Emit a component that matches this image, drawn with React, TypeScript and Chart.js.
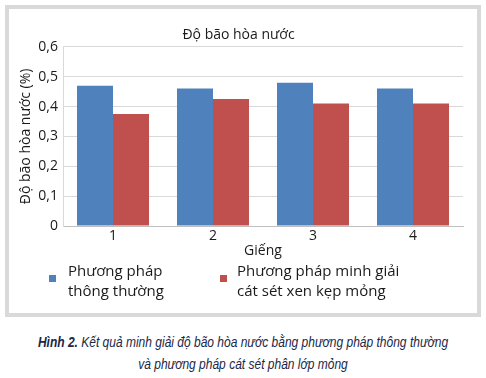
import React, { useEffect, useRef } from "react";
import { Chart, registerables } from "chart.js";

Chart.register(...registerables);

const categories = ["1", "2", "3", "4"];
const seriesConventional = [0.47, 0.46, 0.48, 0.46];
const seriesThinLayer = [0.375, 0.425, 0.41, 0.41];
const seriesLabels = [
  ["Phương pháp", "thông thường"],
  ["Phương pháp minh giải", "cát sét xen kẹp mỏng"],
];
const seriesColors = ["#4f81bd", "#c0504d"];
const yTicks = [0, 0.1, 0.2, 0.3, 0.4, 0.5, 0.6];
const chartTitle = "Độ bão hòa nước";
const yTitle = "Độ bão hòa nước (%)";
const xTitle = "Giếng";

const FONT = "'Open Sans', 'Noto Sans', sans-serif";

const legendPlugin = {
  id: "customLegend",
  afterDraw(chart: any) {
    const ctx = chart.ctx;
    const xs = [[49, 68], [220, 237]];
    ctx.save();
    chart.data.datasets.forEach((ds: any, i: number) => {
      const [mx, tx] = xs[i];
      ctx.fillStyle = ds.backgroundColor;
      ctx.fillRect(mx, 275, 7, 7);
      ctx.fillStyle = "#1a1a1a";
      ctx.font = `15px ${FONT}`;
      ctx.textBaseline = "middle";
      ctx.textAlign = "left";
      const lines: string[] = ds.legendLines;
      lines.forEach((l, j) => ctx.fillText(l, tx, 272 + j * 20));
    });
    ctx.restore();
  },
};

export default function App() {
  const ref = useRef<HTMLCanvasElement>(null);
  useEffect(() => {
    if (!ref.current) return;
    const chart = new Chart(ref.current, {
      type: "bar",
      data: {
        labels: categories,
        datasets: [
          {
            label: seriesLabels[0].join(" "),
            legendLines: seriesLabels[0],
            data: seriesConventional,
            backgroundColor: seriesColors[0],
            categoryPercentage: 0.72,
            barPercentage: 1,
          } as any,
          {
            label: seriesLabels[1].join(" "),
            legendLines: seriesLabels[1],
            data: seriesThinLayer,
            backgroundColor: seriesColors[1],
            categoryPercentage: 0.72,
            barPercentage: 1,
          } as any,
        ],
      },
      options: {
        animation: false,
        responsive: false,
        maintainAspectRatio: false,
        layout: { padding: { left: 14, right: 23, top: 0, bottom: 62 } },
        plugins: {
          legend: { display: false },
          tooltip: { enabled: false },
          title: {
            display: true,
            text: chartTitle,
            color: "#1a1a1a",
            font: { family: FONT, size: 14, weight: "normal", lineHeight: 1.2 },
            padding: { top: 27, bottom: 3 },
          },
        },
        scales: {
          x: {
            grid: { display: false, drawTicks: false },
            border: { display: true, color: "#bfbfbf" },
            ticks: {
              color: "#1a1a1a",
              padding: 3,
              font: { family: FONT, size: 14, lineHeight: 1 },
            },
            title: {
              display: true,
              text: xTitle,
              color: "#1a1a1a",
              padding: { top: 0, bottom: 0 },
              font: { family: FONT, size: 14, lineHeight: 1 },
            },
            afterFit(scale: any) {
              scale.height = 32;
            },
          },
          y: {
            min: 0,
            max: 0.6,
            afterBuildTicks(scale: any) {
              scale.ticks = yTicks.map((v) => ({ value: v }));
            },
            grid: { color: "#d9d9d9", drawTicks: false },
            border: { display: true, color: "#d9d9d9" },
            ticks: {
              color: "#1a1a1a",
              padding: 5,
              font: { family: FONT, size: 14 },
              callback: (v: any) => String(Math.round(Number(v) * 10) / 10).replace(".", ","),
            },
            title: {
              display: true,
              text: yTitle,
              color: "#1a1a1a",
              padding: { top: 4, bottom: 0 },
              font: { family: FONT, size: 14, lineHeight: 1.2 },
            },
            afterFit(scale: any) {
              scale.width = 49;
            },
          },
        },
      },
      plugins: [legendPlugin],
    });
    return () => chart.destroy();
  }, []);

  return (
    <div style={{ position: "fixed", left: 0, top: 0, width: 486, height: 378, background: "#fff", overflow: "hidden" }}>
      <div
        style={{
          position: "absolute",
          left: 5,
          top: 5,
          width: 468,
          height: 304,
          border: "4px solid #d9d9d9",
        }}
      />
      <canvas ref={ref} width={486} height={320} style={{ position: "absolute", left: 0, top: 0, width: 486, height: 320 }} />
      <div
        style={{
          position: "absolute",
          left: -157,
          top: 331,
          width: 800,
          textAlign: "center",
          fontFamily: "'Liberation Sans', sans-serif",
          fontStyle: "italic",
          fontSize: 15,
          lineHeight: "22px",
          color: "#1b2745",
          transform: "scaleX(0.8)",
          transformOrigin: "400px 0",
          whiteSpace: "nowrap",
        }}
      >
        <div>
          <b>Hình 2.</b> Kết quả minh giải độ bão hòa nước bằng phương pháp thông thường
        </div>
        <div>và phương pháp cát sét phân lớp mỏng</div>
      </div>
    </div>
  );
}
